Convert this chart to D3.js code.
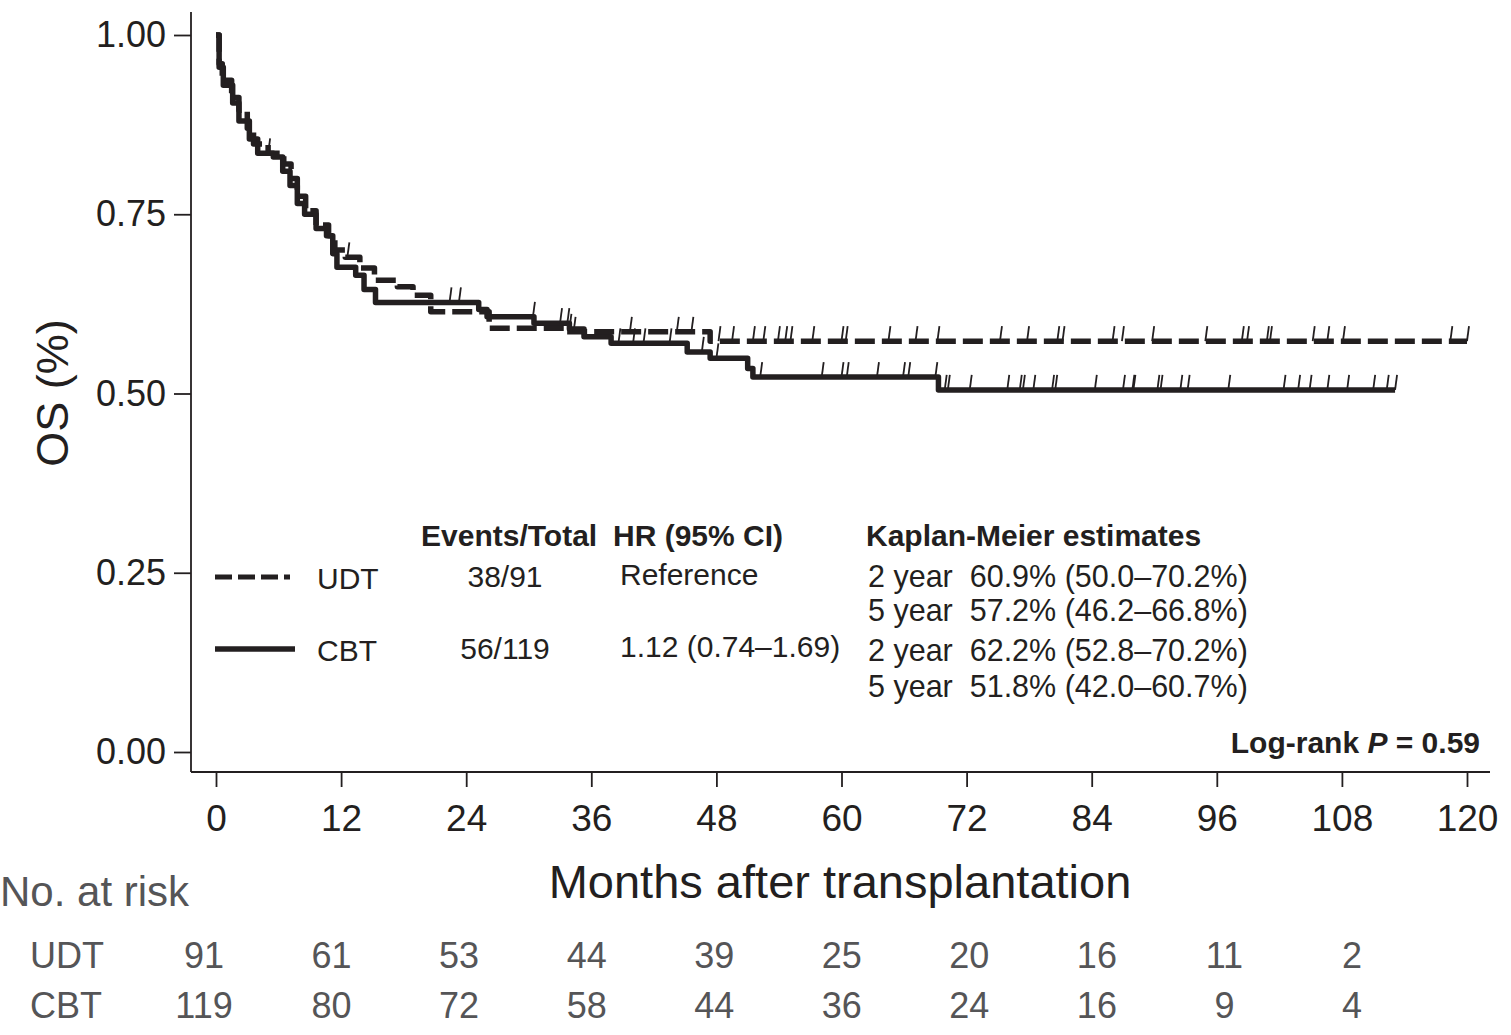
<!DOCTYPE html>
<html>
<head>
<meta charset="utf-8">
<script src="https://cdn.jsdelivr.net/npm/d3@7/dist/d3.min.js"></script>
<style>
  body { margin: 0; background: #fff; }
  svg text { font-family: "Liberation Sans", Arial, sans-serif; fill: #231f20; }
</style>
</head>
<body>
<svg id="chart" width="1511" height="1035"></svg>
<script>
// --- data ---
const xTicks = [0, 12, 24, 36, 48, 60, 72, 84, 96, 108, 120];
const yTicks = [0, 0.25, 0.5, 0.75, 1];

// UDT (dashed) step curve: event times (months) and survival after each step
const udtTimes = [0, 0.3, 0.6, 1.5, 2.2, 3.0, 3.6, 5.0, 6.5, 7.2, 7.8, 8.6, 9.6, 10.8, 11.4, 12.4, 13.8, 15.2, 17.4, 18.9, 20.6, 26.2, 33.6, 47.4];
const udtSurv  = [1, 0.96, 0.937, 0.913, 0.895, 0.87, 0.848, 0.835, 0.82, 0.80, 0.775, 0.755, 0.735, 0.72, 0.70, 0.69, 0.675, 0.658, 0.649, 0.637, 0.614, 0.591, 0.586, 0.573];
const udtEnd = 120;
const udtCensor = [5.0, 12.6, 34.3, 39.7, 44.2, 45.6, 48.2, 49.5, 51.5, 52.5, 53.9, 54.6, 55.1, 57.2, 60.0, 60.4, 64.5, 67.1, 69.2, 75.2, 77.8, 80.7, 81.2, 86.0, 86.9, 89.8, 94.9, 98.4, 98.9, 100.8, 101.1, 105.2, 106.6, 108.1, 118.4, 120.0];

// CBT (solid) step curve
const cbtTimes = [0, 0.3, 0.7, 1.6, 2.2, 3.2, 4.0, 5.5, 6.4, 7.1, 7.8, 8.5, 9.6, 10.6, 11.2, 11.6, 13.4, 14.2, 15.3, 25.2, 26.0, 30.5, 33.9, 35.3, 37.9, 45.2, 47.4, 51.0, 51.5, 69.3];
const cbtSurv  = [1, 0.955, 0.93, 0.905, 0.88, 0.855, 0.835, 0.83, 0.81, 0.79, 0.765, 0.75, 0.73, 0.72, 0.695, 0.676, 0.665, 0.645, 0.627, 0.617, 0.607, 0.598, 0.590, 0.579, 0.570, 0.558, 0.549, 0.535, 0.523, 0.505];
const cbtEnd = 113.1;
const cbtCensor = [22.4, 23.3, 30.4, 33.0, 33.7, 33.9, 38.6, 40.0, 41.0, 43.5, 46.6, 48.0, 52.2, 58.1, 60.0, 60.5, 63.4, 65.9, 66.4, 69.0, 69.9, 70.2, 72.3, 75.9, 77.1, 77.4, 78.4, 80.2, 80.5, 84.3, 87.0, 87.9, 88.0, 90.3, 90.6, 92.5, 93.2, 97.1, 102.4, 103.8, 104.9, 106.6, 108.5, 111.0, 112.3, 113.1];

// number at risk
const riskTimes = [0, 12, 24, 36, 48, 60, 72, 84, 96, 108];
const udtRisk = [91, 61, 53, 44, 39, 25, 20, 16, 11, 2];
const cbtRisk = [119, 80, 72, 58, 44, 36, 24, 16, 9, 4];

// legend table
const groupNames = ['UDT', 'CBT'];
const eventsTotal = ['38/91', '56/119'];
const hrText = ['Reference', '1.12 (0.74\u20131.69)'];
const kmLines = [
  '2 year  60.9% (50.0\u201370.2%)',
  '5 year  57.2% (46.2\u201366.8%)',
  '2 year  62.2% (52.8\u201370.2%)',
  '5 year  51.8% (42.0\u201360.7%)'
];

// --- layout ---
const ink = '#231f20';
const grey = '#555557';
const frameLeft = 191, frameTop = 12, frameBottom = 772, frameRight = 1490;

const svg = d3.select('#chart');
svg.append('rect').attr('width', 1511).attr('height', 1035).attr('fill', '#fff');

const x = d3.scaleLinear().domain([0, 120]).range([216, 1467]);
const y = d3.scaleLinear().domain([0, 1]).range([752, 35]);

// axes
const yAxis = svg.append('g')
  .attr('transform', `translate(${frameLeft},0)`)
  .call(d3.axisLeft(y).tickValues(yTicks).tickFormat(d3.format('.2f')).tickSize(17).tickPadding(8));
yAxis.select('.domain').remove();
yAxis.selectAll('line').attr('stroke', ink).attr('stroke-width', 1.8);
yAxis.selectAll('text').style('font-size', '36px').attr('fill', ink);

const xAxis = svg.append('g')
  .attr('transform', `translate(0,${frameBottom})`)
  .call(d3.axisBottom(x).tickValues(xTicks).tickSize(15).tickPadding(18));
xAxis.select('.domain').remove();
xAxis.selectAll('line').attr('stroke', ink).attr('stroke-width', 1.8);
xAxis.selectAll('text').style('font-size', '37px').attr('fill', ink);

svg.append('line').attr('x1', frameLeft).attr('x2', frameLeft)
  .attr('y1', frameTop).attr('y2', frameBottom)
  .attr('stroke', ink).attr('stroke-width', 1.8);
svg.append('line').attr('x1', frameLeft).attr('x2', frameRight)
  .attr('y1', frameBottom).attr('y2', frameBottom)
  .attr('stroke', ink).attr('stroke-width', 1.8);

// axis titles
svg.append('text')
  .attr('transform', 'translate(68,393) rotate(-90)')
  .attr('text-anchor', 'middle')
  .style('font-size', '45px')
  .text('OS (%)');

svg.append('text')
  .attr('x', 840).attr('y', 898)
  .attr('text-anchor', 'middle')
  .style('font-size', '47px')
  .text('Months after transplantation');

// KM curves
const stepLine = d3.line()
  .x(d => x(d[0]))
  .y(d => y(d[1]))
  .curve(d3.curveStepAfter);

function survAt(times, surv, t) {
  let s = surv[0];
  for (let i = 0; i < times.length; i++) {
    if (times[i] <= t) s = surv[i];
  }
  return s;
}

function drawCurve(times, surv, end, censor, dash) {
  const pts = times.map((t, i) => [t, surv[i]]);
  pts.push([end, surv[surv.length - 1]]);

  svg.append('path')
    .datum(pts)
    .attr('d', stepLine)
    .attr('fill', 'none')
    .attr('stroke', ink)
    .attr('stroke-width', 5.5)
    .attr('stroke-dasharray', dash)
    .attr('stroke-linejoin', 'round');

  // censor marks
  svg.append('g')
    .selectAll('line')
    .data(censor)
    .enter()
    .append('line')
    .attr('x1', d => x(d))
    .attr('y1', d => y(survAt(times, surv, d)))
    .attr('x2', d => x(d) + 2)
    .attr('y2', d => y(survAt(times, surv, d)) - 15)
    .attr('stroke', ink)
    .attr('stroke-width', 1.8);
}

drawCurve(cbtTimes, cbtSurv, cbtEnd, cbtCensor, null);
drawCurve(udtTimes, udtSurv, udtEnd, udtCensor, '20,7');

// legend table
const legend = svg.append('g');
const headStyle = t => t.style('font-size', '30px').style('font-weight', 'bold');

legend.append('text').attr('x', 421).attr('y', 546).call(headStyle).text('Events/Total');
legend.append('text').attr('x', 613).attr('y', 546).call(headStyle).text('HR (95% CI)');
legend.append('text').attr('x', 866).attr('y', 546).call(headStyle).text('Kaplan-Meier estimates');

const rowY = [577, 649];
legend.append('line').attr('x1', 215).attr('x2', 290).attr('y1', rowY[0]).attr('y2', rowY[0])
  .attr('stroke', ink).attr('stroke-width', 5).attr('stroke-dasharray', '17,6');
legend.append('line').attr('x1', 215).attr('x2', 295).attr('y1', rowY[1]).attr('y2', rowY[1])
  .attr('stroke', ink).attr('stroke-width', 5.5);

groupNames.forEach((g, i) => {
  legend.append('text').attr('x', 317).attr('y', rowY[i] + 12).style('font-size', '30px').text(g);
  legend.append('text').attr('x', 505).attr('y', rowY[i] + 10).attr('text-anchor', 'middle')
    .style('font-size', '30px').text(eventsTotal[i]);
  legend.append('text').attr('x', 620).attr('y', rowY[i] + 8).style('font-size', '30px').text(hrText[i]);
});

const kmY = [587, 621, 661, 697];
kmLines.forEach((t, i) => {
  legend.append('text').attr('x', 868).attr('y', kmY[i])
    .style('font-size', '30.5px').style('white-space', 'pre')
    .attr('xml:space', 'preserve').text(t);
});

const lr = svg.append('text')
  .attr('x', 1480).attr('y', 753)
  .attr('text-anchor', 'end')
  .style('font-size', '30px').style('font-weight', 'bold');
lr.append('tspan').text('Log-rank ');
lr.append('tspan').style('font-style', 'italic').text('P');
lr.append('tspan').text(' = 0.59');

// number at risk table
const riskX = d3.scaleLinear().domain([0, 108]).range([204, 1352]);

svg.append('text').attr('x', 0).attr('y', 906)
  .style('font-size', '42px').style('fill', grey)
  .text('No. at risk');

[[groupNames[0], udtRisk, 968], [groupNames[1], cbtRisk, 1018]].forEach(([name, vals, yy]) => {
  svg.append('text').attr('x', 30).attr('y', yy)
    .style('font-size', '36px').style('fill', grey).text(name);
  svg.append('g')
    .selectAll('text')
    .data(vals)
    .enter()
    .append('text')
    .attr('x', (d, i) => riskX(riskTimes[i]))
    .attr('y', yy)
    .attr('text-anchor', 'middle')
    .style('font-size', '36px')
    .style('fill', grey)
    .text(d => d);
});
</script>
</body>
</html>
